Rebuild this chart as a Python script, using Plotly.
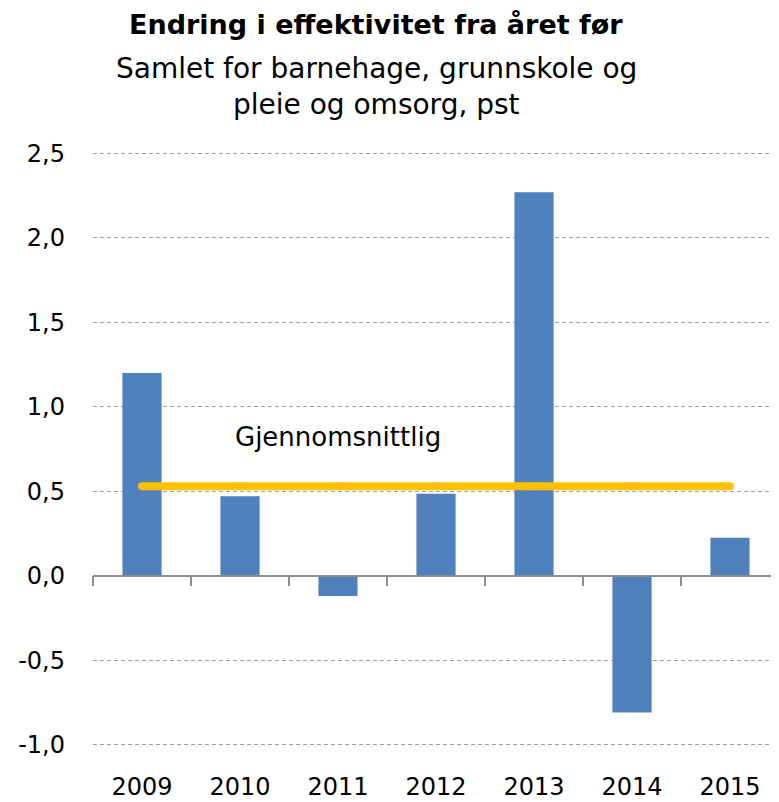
import plotly.graph_objects as go

years = ["2009", "2010", "2011", "2012", "2013", "2014", "2015"]
change = [1.20, 0.47, -0.12, 0.485, 2.27, -0.81, 0.225]
average = [0.53] * len(years)

y_tickvals = [-1.0, -0.5, 0.0, 0.5, 1.0, 1.5, 2.0, 2.5]
y_ticktext = ["-1,0", "-0,5", "0,0", "0,5", "1,0", "1,5", "2,0", "2,5"]

FONT = "'DejaVu Sans', sans-serif"
BAR_BLUE = "#4F81BD"
AVG_YELLOW = "#FFC000"
# a hair of padding so the grid lines at -1,0 and 2,5 are not dropped at the edges
Y_MIN, Y_MAX = -1.008, 2.508

fig = go.Figure()

# bars sit on the axis that runs through zero
fig.add_trace(
    go.Bar(
        x=years,
        y=change,
        marker_color=BAR_BLUE,
        marker_line_width=0,
        width=0.4,
        xaxis="x",
        yaxis="y",
        showlegend=False,
        hoverinfo="skip",
    )
)

# average line (round ends via markers), on the bottom axis with the year labels
fig.add_trace(
    go.Scatter(
        x=years,
        y=average,
        mode="lines+markers",
        line=dict(color=AVG_YELLOW, width=8),
        marker=dict(color=AVG_YELLOW, size=8, line_width=0),
        xaxis="x2",
        yaxis="y",
        showlegend=False,
        hoverinfo="skip",
    )
)

# label over the average line, centred on the 2011 slot
label_x = (years.index("2011") + 0.5) / len(years)
fig.add_annotation(
    x=label_x, y=0.82, xref="paper", yref="y",
    text="Gjennomsnittlig", showarrow=False,
    font=dict(family=FONT, size=26, color="#000000"),
    xanchor="center", yanchor="middle",
)

# title block
fig.add_annotation(
    x=0.413, y=1.215, xref="paper", yref="paper",
    text="<b>Endring i effektivitet fra året før</b>", showarrow=False,
    font=dict(family=FONT, size=27, color="#000000"),
    xanchor="center", yanchor="middle",
)
fig.add_annotation(
    x=0.413, y=1.140, xref="paper", yref="paper",
    text="Samlet for barnehage, grunnskole og", showarrow=False,
    font=dict(family=FONT, size=28, color="#000000"),
    xanchor="center", yanchor="middle",
)
fig.add_annotation(
    x=0.413, y=1.080, xref="paper", yref="paper",
    text="pleie og omsorg, pst", showarrow=False,
    font=dict(family=FONT, size=28, color="#000000"),
    xanchor="center", yanchor="middle",
)

zero_pos = (0 - Y_MIN) / (Y_MAX - Y_MIN)

# page body has an 8px margin, so the figure is 8px smaller than the window
fig.update_layout(
    width=771,
    height=794,
    margin=dict(l=85, r=0, t=144, b=56),
    paper_bgcolor="white",
    plot_bgcolor="white",
    font=dict(family=FONT, size=24, color="#000000"),
    bargap=0.6,
    xaxis=dict(
        type="category",
        range=[-0.5, 6.5],
        anchor="free",
        position=zero_pos,
        showline=True,
        linecolor="#8C8C8C",
        linewidth=1.5,
        ticks="outside",
        tickson="boundaries",
        ticklen=10,
        tickcolor="#8C8C8C",
        tickwidth=1.5,
        showticklabels=False,
        showgrid=False,
        zeroline=False,
        fixedrange=True,
    ),
    xaxis2=dict(
        type="category",
        range=[-0.5, 6.5],
        overlaying="x",
        anchor="y",
        side="bottom",
        showline=False,
        ticks="",
        showticklabels=True,
        ticklabelstandoff=24,
        tickfont=dict(family=FONT, size=24, color="#000000"),
        showgrid=False,
        zeroline=False,
        fixedrange=True,
    ),
    yaxis=dict(
        range=[Y_MIN, Y_MAX],
        tickvals=y_tickvals,
        ticktext=y_ticktext,
        tickfont=dict(family=FONT, size=24, color="#000000"),
        ticklabelstandoff=27,
        showgrid=True,
        gridcolor="#A0A0A0",
        griddash="4px,3px",
        gridwidth=1,
        zeroline=False,
        showline=False,
        ticks="",
        fixedrange=True,
    ),
)

fig.write_html("out.html")
